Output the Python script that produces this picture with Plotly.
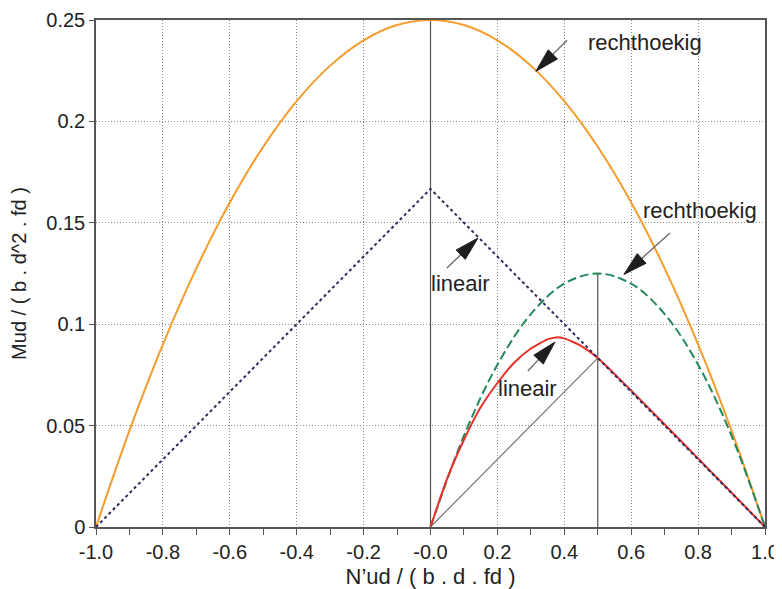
import math
import plotly.graph_objects as go

# --- data ---
n_rect = [-1.0, -0.9, -0.8, -0.7, -0.6, -0.5, -0.4, -0.3, -0.2, -0.1, 0.0,
          0.1, 0.2, 0.3, 0.4, 0.5, 0.6, 0.7, 0.8, 0.9, 1.0]
m_rect = [0.0, 0.0475, 0.09, 0.1275, 0.16, 0.1875, 0.21, 0.2275, 0.24, 0.2475, 0.25,
          0.2475, 0.24, 0.2275, 0.21, 0.1875, 0.16, 0.1275, 0.09, 0.0475, 0.0]

n_lin = [-1.0, 0.0, 1.0]
m_lin = [0.0, 0.1667, 0.0]

n_rect2 = [0.0, 0.1, 0.2, 0.3, 0.4, 0.5, 0.6, 0.7, 0.8, 0.9, 1.0]
m_rect2 = [0.0, 0.045, 0.08, 0.105, 0.12, 0.125, 0.12, 0.105, 0.08, 0.045, 0.0]

n_lin2 = [0.0, 0.05, 0.1, 0.15, 0.2, 0.25, 0.3, 0.35, 0.375, 0.4, 0.45, 0.5, 1.0]
m_lin2 = [0.0, 0.024, 0.043, 0.059, 0.071, 0.081, 0.088, 0.0925, 0.0935, 0.093, 0.0893, 0.0833, 0.0]

# helper lines
v0_x, v0_y = [0.0, 0.0], [0.0, 0.25]
v5_x, v5_y = [0.5, 0.5], [0.0, 0.125]
diag_x, diag_y = [0.0, 0.5], [0.0, 0.0833]

x_ticks = [-1.0, -0.8, -0.6, -0.4, -0.2, 0.0, 0.2, 0.4, 0.6, 0.8, 1.0]
x_labels = ["-1.0", "-0.8", "-0.6", "-0.4", "-0.2", "-0.0", "0.2", "0.4", "0.6", "0.8", "1.0"]
y_ticks = [0, 0.05, 0.1, 0.15, 0.2, 0.25]
y_labels = ["0", "0.05", "0.1", "0.15", "0.2", "0.25"]

# label text, text position, arrow tail, arrow tip
labels = ["rechthoekig", "rechthoekig", "lineair", "lineair"]
label_x = [0.641, 0.806, 0.091, 0.289]
label_y = [0.239, 0.156, 0.120, 0.0685]
tail_x = [0.408, 0.716, 0.049, 0.291]
tail_y = [0.240, 0.145, 0.1277, 0.0769]
tip_x = [0.315, 0.578, 0.142, 0.372]
tip_y = [0.2247, 0.1245, 0.1425, 0.0912]

W, H = 774, 581
ML, MR, MT, MB = 88, 17, 12, 62
px_x = (W - ML - MR) / 2.0      # pixels per x unit
px_y = (H - MT - MB) / 0.25     # pixels per y unit

fig = go.Figure()

gray = dict(color="#555555", width=1.2)
fig.add_trace(go.Scatter(x=v0_x, y=v0_y, mode="lines", line=gray))
fig.add_trace(go.Scatter(x=v5_x, y=v5_y, mode="lines", line=gray))
fig.add_trace(go.Scatter(x=diag_x, y=diag_y, mode="lines", line=dict(color="#777777", width=1.2)))

fig.add_trace(go.Scatter(x=n_rect, y=m_rect, mode="lines", line=dict(color="#f39c2c", width=2, shape="spline")))
fig.add_trace(go.Scatter(x=n_rect2, y=m_rect2, mode="lines",
                         line=dict(color="#23875a", width=2, dash="9px,4px", shape="spline")))
fig.add_trace(go.Scatter(x=n_lin2, y=m_lin2, mode="lines",
                         line=dict(color="#e8302a", width=2, shape="spline", smoothing=0.6)))
fig.add_trace(go.Scatter(x=n_lin, y=m_lin, mode="lines", line=dict(color="#2b2b5e", width=2, dash="dot")))

fnt = dict(family="Liberation Sans, Arial, sans-serif", size=20, color="#222222")

# arrows: thin gray shaft + slim black head
head_len, head_half = 24, 6.5
for i in range(len(labels)):
    dx = (tail_x[i] - tip_x[i]) * px_x
    dy = (tail_y[i] - tip_y[i]) * px_y
    d = math.hypot(dx, dy)
    ux, uy = dx / d, dy / d
    bx, by = ux * head_len, uy * head_len
    c1 = (tip_x[i] + (bx - uy * head_half) / px_x, tip_y[i] + (by + ux * head_half) / px_y)
    c2 = (tip_x[i] + (bx + uy * head_half) / px_x, tip_y[i] + (by - ux * head_half) / px_y)
    fig.add_shape(type="line", xref="x", yref="y", x0=tail_x[i], y0=tail_y[i],
                  x1=tip_x[i] + bx / px_x, y1=tip_y[i] + by / px_y,
                  line=dict(color="#666666", width=1.3))
    fig.add_shape(type="path", xref="x", yref="y",
                  path=f"M{tip_x[i]},{tip_y[i]} L{c1[0]},{c1[1]} L{c2[0]},{c2[1]} Z",
                  fillcolor="#1e1e1e", line=dict(color="#1e1e1e", width=1))
    fig.add_annotation(x=label_x[i], y=label_y[i], text=labels[i], showarrow=False,
                       font=dict(fnt, size=22), xanchor="center", yanchor="middle")

fig.update_layout(
    width=W, height=H,
    margin=dict(l=ML, r=MR, t=MT, b=MB),
    paper_bgcolor="white", plot_bgcolor="white",
    showlegend=False,
    font=fnt,
)
fig.update_xaxes(range=[-1, 1], tickvals=x_ticks, ticktext=x_labels, automargin=False,
                 showgrid=True, gridcolor="#8a8a8a", griddash="1px,2px", gridwidth=1.2,
                 ticks="outside", ticklen=6, tickcolor="#555555",
                 minor=dict(dtick=0.1, ticks="outside", ticklen=6, tickcolor="#555555", showgrid=False),
                 showline=True, linecolor="#555555", linewidth=1.5, mirror=True,
                 zeroline=False,
                 title=dict(text="N’ud / ( b . d . fd )", font=dict(fnt, size=22), standoff=8))
fig.update_yaxes(range=[0, 0.25], tickvals=y_ticks, ticktext=y_labels, automargin=False,
                 showgrid=True, gridcolor="#8a8a8a", griddash="1px,2px", gridwidth=1.2,
                 ticks="outside", ticklen=5, tickcolor="#555555",
                 showline=True, linecolor="#555555", linewidth=1.5, mirror=True,
                 zeroline=False, title=dict(text="Mud / ( b . d^2 . fd )", font=fnt, standoff=14))

fig.write_html("out.html")
